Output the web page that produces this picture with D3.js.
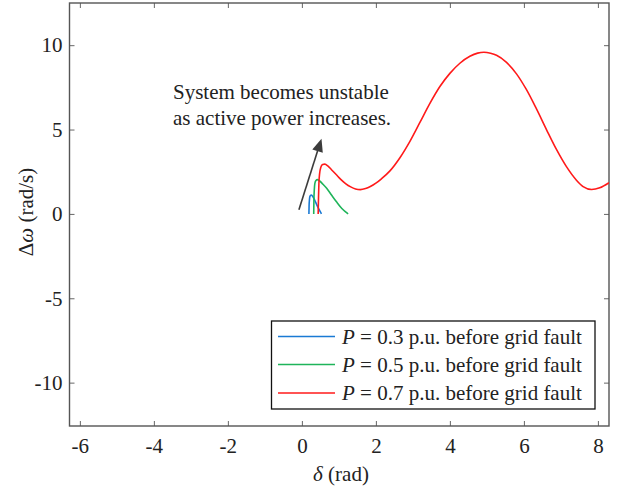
<!DOCTYPE html>
<html>
<head>
<meta charset="utf-8">
<script src="https://cdn.jsdelivr.net/npm/d3@7"></script>
<style>
  body { margin: 0; background: #fff; }
</style>
</head>
<body>
<div id="chart"></div>
<script>
// delta (rad) / delta-omega (rad/s) traces
const blueDelta  = [0.19, 0.195, 0.205, 0.22, 0.25, 0.29, 0.34, 0.40, 0.46, 0.53];
const blueOmega  = [0.0, 0.5, 0.85, 1.05, 1.12, 1.05, 0.85, 0.55, 0.28, 0.0];

const greenDelta = [0.32, 0.325, 0.335, 0.35, 0.38, 0.42, 0.48, 0.56, 0.67, 0.80, 0.94, 1.08, 1.25];
const greenOmega = [0.0, 0.8, 1.4, 1.8, 1.98, 2.03, 1.95, 1.78, 1.52, 1.12, 0.70, 0.32, 0.0];

const redDelta = [0.44, 0.45, 0.46, 0.48, 0.51, 0.56, 0.62, 0.70, 0.80, 0.92, 1.05, 1.18, 1.32, 1.45,
  1.58, 1.72, 1.85, 2.0, 2.15, 2.38, 2.65, 2.92, 3.19, 3.46, 3.73, 4.0, 4.27, 4.54, 4.75, 4.92,
  5.1, 5.26, 5.53, 5.80, 6.07, 6.34, 6.61, 6.88, 7.15, 7.42, 7.60, 7.83, 8.05, 8.30];
const redOmega = [0.0, 1.0, 1.8, 2.4, 2.75, 2.93, 2.95, 2.85, 2.62, 2.35, 2.05, 1.8, 1.6, 1.48,
  1.44, 1.5, 1.62, 1.82, 2.08, 2.55, 3.33, 4.30, 5.42, 6.55, 7.55, 8.33, 8.93, 9.34, 9.53, 9.58,
  9.52, 9.40, 8.98, 8.30, 7.36, 6.22, 5.00, 3.82, 2.80, 2.00, 1.62, 1.45, 1.55, 1.85];

const xTicks = [-6, -4, -2, 0, 2, 4, 6, 8];
const yTicks = [-10, -5, 0, 5, 10];
const legendValues = ['0.3', '0.5', '0.7'];
const seriesColors = ['#1a7ad4', '#1fb45a', '#ff1a1a'];

// arrow from tail to tip, data units
const arrowTail = [-0.08, 0.25];
const arrowTip = [0.53, 4.46];

const W = 623, H = 489;
const margin = { left: 69.5, right: 14, top: 3, bottom: 63 };
const serif = '"Liberation Serif", "Times New Roman", Times, "DejaVu Serif", serif';

const svg = d3.select('#chart').append('svg')
    .attr('width', W)
    .attr('height', H)
    .attr('font-family', serif);

const x = d3.scaleLinear().domain([-6.28, 8.30]).range([margin.left, W - margin.right]);
const y = d3.scaleLinear().domain([-12.57, 12.5]).range([H - margin.bottom, margin.top]);

const defs = svg.append('defs');
defs.append('clipPath').attr('id', 'plot-clip')
  .append('rect')
    .attr('x', margin.left).attr('y', margin.top)
    .attr('width', W - margin.left - margin.right)
    .attr('height', H - margin.top - margin.bottom);

// axes (ticks pointing inward on all four sides)
const axisColor = '#666';
function styleAxis(g) {
    g.attr('font-family', serif).attr('font-size', 21);
    g.select('.domain').remove();
    g.selectAll('.tick line').attr('stroke', axisColor).attr('stroke-width', 1);
    g.selectAll('.tick text').attr('fill', '#222');
}

svg.append('g')
    .attr('transform', `translate(0,${H - margin.bottom})`)
    .call(d3.axisBottom(x).tickValues(xTicks).tickSize(-5).tickPadding(12).tickFormat(d => String(d)))
    .call(styleAxis);
svg.append('g')
    .attr('transform', `translate(0,${margin.top})`)
    .call(d3.axisTop(x).tickValues(xTicks).tickSize(-5).tickFormat(''))
    .call(styleAxis);
svg.append('g')
    .attr('transform', `translate(${margin.left},0)`)
    .call(d3.axisLeft(y).tickValues(yTicks).tickSize(-5).tickPadding(7).tickFormat(d => String(d)))
    .call(styleAxis);
svg.append('g')
    .attr('transform', `translate(${W - margin.right},0)`)
    .call(d3.axisRight(y).tickValues(yTicks).tickSize(-5).tickFormat(''))
    .call(styleAxis);

svg.append('rect')
    .attr('x', margin.left).attr('y', margin.top)
    .attr('width', W - margin.left - margin.right)
    .attr('height', H - margin.top - margin.bottom)
    .attr('fill', 'none')
    .attr('stroke', '#555')
    .attr('stroke-width', 1.4);

// curves
const line = d3.line()
    .x(d => x(d[0]))
    .y(d => y(d[1]))
    .curve(d3.curveMonotoneX);

const series = [
    d3.zip(blueDelta, blueOmega),
    d3.zip(greenDelta, greenOmega),
    d3.zip(redDelta, redOmega)
];

const plot = svg.append('g').attr('clip-path', 'url(#plot-clip)');
series.forEach((pts, i) => {
    plot.append('path')
        .attr('d', line(pts))
        .attr('fill', 'none')
        .attr('stroke', seriesColors[i])
        .attr('stroke-width', 1.6);
});

// annotation arrow
const ax0 = x(arrowTail[0]), ay0 = y(arrowTail[1]);
const ax1 = x(arrowTip[0]), ay1 = y(arrowTip[1]);
const ang = Math.atan2(ay1 - ay0, ax1 - ax0);
const headLen = 13, headHalf = 5.5;
const bx = ax1 - headLen * Math.cos(ang), by = ay1 - headLen * Math.sin(ang);
svg.append('line')
    .attr('x1', ax0).attr('y1', ay0)
    .attr('x2', bx).attr('y2', by)
    .attr('stroke', '#3c3c3c')
    .attr('stroke-width', 1.6);
svg.append('polygon')
    .attr('points', [
        [ax1, ay1],
        [bx + headHalf * Math.sin(ang), by - headHalf * Math.cos(ang)],
        [bx - headHalf * Math.sin(ang), by + headHalf * Math.cos(ang)]
    ].map(p => p.join(',')).join(' '))
    .attr('fill', '#3c3c3c');

const note = svg.append('text').attr('font-size', 21).attr('fill', '#222');
note.append('tspan').attr('x', 173).attr('y', 99).text('System becomes unstable');
note.append('tspan').attr('x', 173).attr('y', 125).text('as active power increases.');

// axis labels
svg.append('text')
    .attr('x', 341).attr('y', 481)
    .attr('text-anchor', 'middle')
    .attr('font-size', 21)
    .attr('fill', '#222')
    .call(t => {
        t.append('tspan').style('font-style', 'italic').text('δ');
        t.append('tspan').text(' (rad)');
    });

svg.append('text')
    .attr('transform', 'translate(33,212) rotate(-90)')
    .attr('text-anchor', 'middle')
    .attr('font-size', 21)
    .attr('fill', '#222')
    .call(t => {
        t.append('tspan').text('Δ');
        t.append('tspan').style('font-style', 'italic').text('ω');
        t.append('tspan').text(' (rad/s)');
    });

// legend
const lg = svg.append('g');
lg.append('rect')
    .attr('x', 271.5).attr('y', 321)
    .attr('width', 323.5).attr('height', 88)
    .attr('fill', '#fff')
    .attr('stroke', '#111')
    .attr('stroke-width', 1.3);
const rowY = [336.5, 364.5, 393];
legendValues.forEach((v, i) => {
    lg.append('line')
        .attr('x1', 278).attr('x2', 335)
        .attr('y1', rowY[i]).attr('y2', rowY[i])
        .attr('stroke', seriesColors[i])
        .attr('stroke-width', 1.6);
    const t = lg.append('text')
        .attr('x', 342).attr('y', rowY[i] + 7)
        .attr('font-size', 21)
        .attr('fill', '#222');
    t.append('tspan').style('font-style', 'italic').text('P');
    t.append('tspan').text(` = ${v} p.u. before grid fault`);
});
</script>
</body>
</html>
